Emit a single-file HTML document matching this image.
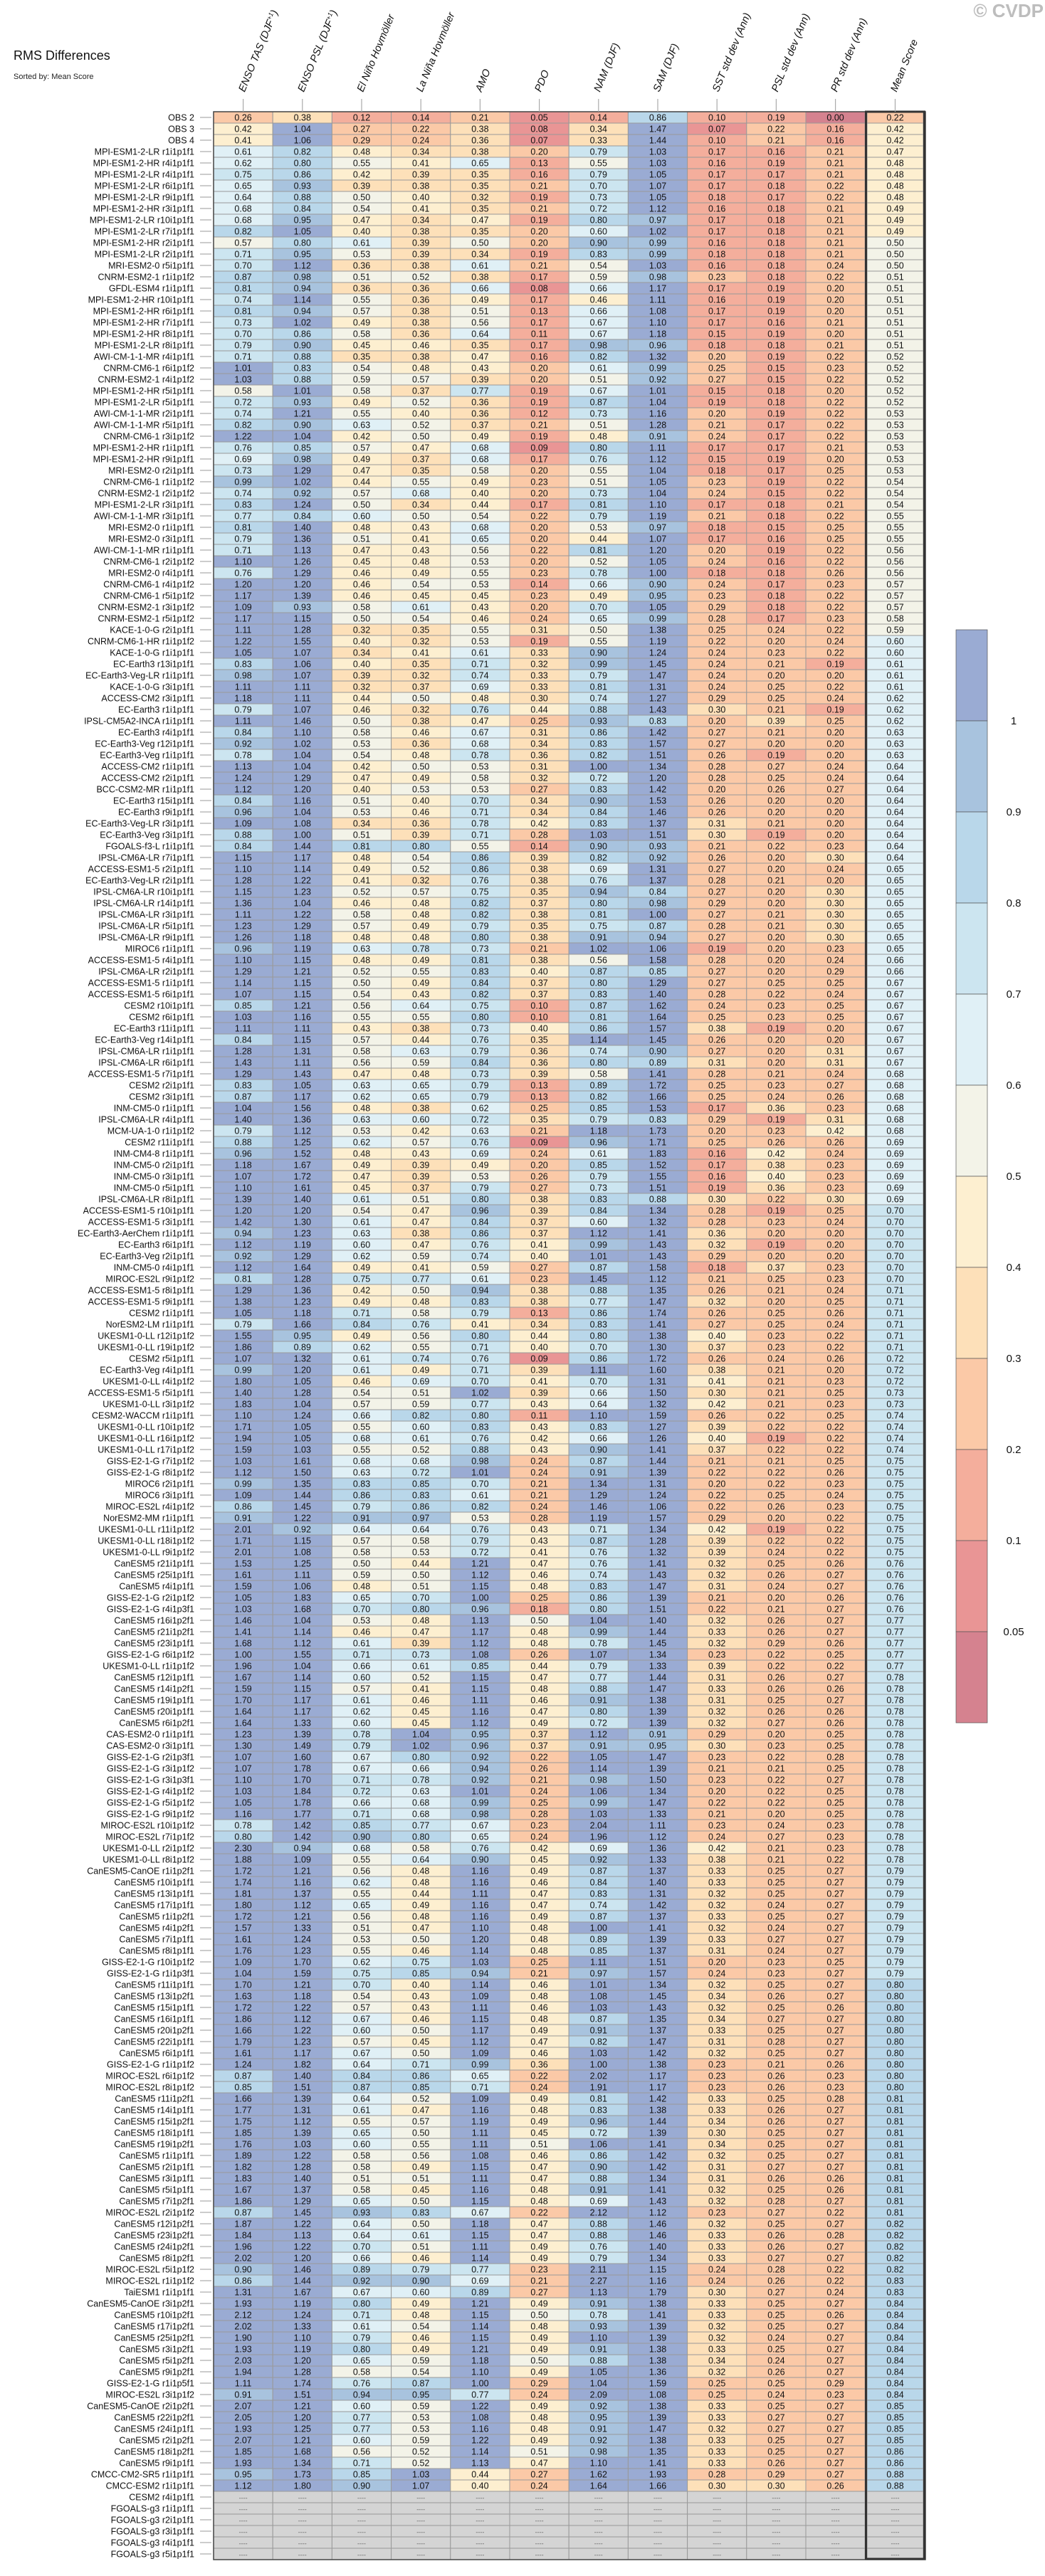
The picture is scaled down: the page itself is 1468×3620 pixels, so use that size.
<!DOCTYPE html>
<html><head><meta charset="utf-8"><title>RMS Differences</title>
<style>
html,body{margin:0;padding:0;background:#fff;}
#wrap{position:relative;width:1468px;height:3620px;overflow:hidden;background:#fff;}
svg{position:absolute;left:0;top:0;}
text{font-family:"Liberation Sans Narrow","Liberation Sans",sans-serif;}
</style></head>
<body>
<div id="wrap">
<svg id="chart" width="1468" height="3620" viewBox="0 0 1468 3620">
<text x="19" y="84" font-size="18" fill="#111">RMS Differences</text>
<text x="19" y="111" font-size="11" fill="#222">Sorted by: Mean Score</text>
<text x="1466" y="24" font-size="26" font-weight="bold" fill="#bdbdbd" text-anchor="end" style="font-family:'Liberation Sans',sans-serif">© CVDP</text>
<g id="cells"></g>
<g id="labels"></g>
<g id="cbar"></g>
</svg>
</div>
<script>
const columnNames = ["ENSO TAS (DJF|+1|)","ENSO PSL (DJF|+1|)","El Niño Hovmöller","La Niña Hovmöller","AMO","PDO","NAM (DJF)","SAM (DJF)","SST std dev (Ann)","PSL std dev (Ann)","PR std dev (Ann)","Mean Score"];
const rowNames = ["OBS 2","OBS 3","OBS 4","MPI-ESM1-2-LR r1i1p1f1","MPI-ESM1-2-HR r4i1p1f1","MPI-ESM1-2-LR r4i1p1f1","MPI-ESM1-2-LR r6i1p1f1","MPI-ESM1-2-LR r9i1p1f1","MPI-ESM1-2-HR r3i1p1f1","MPI-ESM1-2-LR r10i1p1f1","MPI-ESM1-2-LR r7i1p1f1","MPI-ESM1-2-HR r2i1p1f1","MPI-ESM1-2-LR r2i1p1f1","MRI-ESM2-0 r5i1p1f1","CNRM-ESM2-1 r1i1p1f2","GFDL-ESM4 r1i1p1f1","MPI-ESM1-2-HR r10i1p1f1","MPI-ESM1-2-HR r6i1p1f1","MPI-ESM1-2-HR r7i1p1f1","MPI-ESM1-2-HR r8i1p1f1","MPI-ESM1-2-LR r8i1p1f1","AWI-CM-1-1-MR r4i1p1f1","CNRM-CM6-1 r6i1p1f2","CNRM-ESM2-1 r4i1p1f2","MPI-ESM1-2-HR r5i1p1f1","MPI-ESM1-2-LR r5i1p1f1","AWI-CM-1-1-MR r2i1p1f1","AWI-CM-1-1-MR r5i1p1f1","CNRM-CM6-1 r3i1p1f2","MPI-ESM1-2-HR r1i1p1f1","MPI-ESM1-2-HR r9i1p1f1","MRI-ESM2-0 r2i1p1f1","CNRM-CM6-1 r1i1p1f2","CNRM-ESM2-1 r2i1p1f2","MPI-ESM1-2-LR r3i1p1f1","AWI-CM-1-1-MR r3i1p1f1","MRI-ESM2-0 r1i1p1f1","MRI-ESM2-0 r3i1p1f1","AWI-CM-1-1-MR r1i1p1f1","CNRM-CM6-1 r2i1p1f2","MRI-ESM2-0 r4i1p1f1","CNRM-CM6-1 r4i1p1f2","CNRM-CM6-1 r5i1p1f2",
"CNRM-ESM2-1 r3i1p1f2","CNRM-ESM2-1 r5i1p1f2","KACE-1-0-G r2i1p1f1","CNRM-CM6-1-HR r1i1p1f2","KACE-1-0-G r1i1p1f1","EC-Earth3 r13i1p1f1","EC-Earth3-Veg-LR r1i1p1f1","KACE-1-0-G r3i1p1f1","ACCESS-CM2 r3i1p1f1","EC-Earth3 r1i1p1f1","IPSL-CM5A2-INCA r1i1p1f1","EC-Earth3 r4i1p1f1","EC-Earth3-Veg r12i1p1f1","EC-Earth3-Veg r1i1p1f1","ACCESS-CM2 r1i1p1f1","ACCESS-CM2 r2i1p1f1","BCC-CSM2-MR r1i1p1f1","EC-Earth3 r15i1p1f1","EC-Earth3 r9i1p1f1","EC-Earth3-Veg-LR r3i1p1f1","EC-Earth3-Veg r3i1p1f1","FGOALS-f3-L r1i1p1f1","IPSL-CM6A-LR r7i1p1f1","ACCESS-ESM1-5 r2i1p1f1","EC-Earth3-Veg-LR r2i1p1f1","IPSL-CM6A-LR r10i1p1f1","IPSL-CM6A-LR r14i1p1f1","IPSL-CM6A-LR r3i1p1f1","IPSL-CM6A-LR r5i1p1f1","IPSL-CM6A-LR r9i1p1f1","MIROC6 r1i1p1f1","ACCESS-ESM1-5 r4i1p1f1","IPSL-CM6A-LR r2i1p1f1","ACCESS-ESM1-5 r1i1p1f1","ACCESS-ESM1-5 r6i1p1f1","CESM2 r10i1p1f1","CESM2 r6i1p1f1","EC-Earth3 r11i1p1f1","EC-Earth3-Veg r14i1p1f1","IPSL-CM6A-LR r1i1p1f1","IPSL-CM6A-LR r6i1p1f1","ACCESS-ESM1-5 r7i1p1f1","CESM2 r2i1p1f1",
"CESM2 r3i1p1f1","INM-CM5-0 r1i1p1f1","IPSL-CM6A-LR r4i1p1f1","MCM-UA-1-0 r1i1p1f2","CESM2 r11i1p1f1","INM-CM4-8 r1i1p1f1","INM-CM5-0 r2i1p1f1","INM-CM5-0 r3i1p1f1","INM-CM5-0 r5i1p1f1","IPSL-CM6A-LR r8i1p1f1","ACCESS-ESM1-5 r10i1p1f1","ACCESS-ESM1-5 r3i1p1f1","EC-Earth3-AerChem r1i1p1f1","EC-Earth3 r6i1p1f1","EC-Earth3-Veg r2i1p1f1","INM-CM5-0 r4i1p1f1","MIROC-ES2L r9i1p1f2","ACCESS-ESM1-5 r8i1p1f1","ACCESS-ESM1-5 r9i1p1f1","CESM2 r1i1p1f1","NorESM2-LM r1i1p1f1","UKESM1-0-LL r12i1p1f2","UKESM1-0-LL r19i1p1f2","CESM2 r5i1p1f1","EC-Earth3-Veg r4i1p1f1","UKESM1-0-LL r4i1p1f2","ACCESS-ESM1-5 r5i1p1f1","UKESM1-0-LL r3i1p1f2","CESM2-WACCM r1i1p1f1","UKESM1-0-LL r10i1p1f2","UKESM1-0-LL r16i1p1f2","UKESM1-0-LL r17i1p1f2","GISS-E2-1-G r7i1p1f2","GISS-E2-1-G r8i1p1f2","MIROC6 r2i1p1f1","MIROC6 r3i1p1f1","MIROC-ES2L r4i1p1f2","NorESM2-MM r1i1p1f1","UKESM1-0-LL r11i1p1f2","UKESM1-0-LL r18i1p1f2","UKESM1-0-LL r9i1p1f2","CanESM5 r21i1p1f1","CanESM5 r25i1p1f1",
"CanESM5 r4i1p1f1","GISS-E2-1-G r2i1p1f2","GISS-E2-1-G r4i1p3f1","CanESM5 r16i1p2f1","CanESM5 r21i1p2f1","CanESM5 r23i1p1f1","GISS-E2-1-G r6i1p1f2","UKESM1-0-LL r1i1p1f2","CanESM5 r12i1p1f1","CanESM5 r14i1p2f1","CanESM5 r19i1p1f1","CanESM5 r20i1p1f1","CanESM5 r6i1p2f1","CAS-ESM2-0 r1i1p1f1","CAS-ESM2-0 r3i1p1f1","GISS-E2-1-G r2i1p3f1","GISS-E2-1-G r3i1p1f2","GISS-E2-1-G r3i1p3f1","GISS-E2-1-G r4i1p1f2","GISS-E2-1-G r5i1p1f2","GISS-E2-1-G r9i1p1f2","MIROC-ES2L r10i1p1f2","MIROC-ES2L r7i1p1f2","UKESM1-0-LL r2i1p1f2","UKESM1-0-LL r8i1p1f2","CanESM5-CanOE r1i1p2f1","CanESM5 r10i1p1f1","CanESM5 r13i1p1f1","CanESM5 r17i1p1f1","CanESM5 r1i1p2f1","CanESM5 r4i1p2f1","CanESM5 r7i1p1f1","CanESM5 r8i1p1f1","GISS-E2-1-G r10i1p1f2","GISS-E2-1-G r1i1p3f1","CanESM5 r11i1p1f1","CanESM5 r13i1p2f1","CanESM5 r15i1p1f1","CanESM5 r16i1p1f1","CanESM5 r20i1p2f1","CanESM5 r22i1p1f1","CanESM5 r6i1p1f1","GISS-E2-1-G r1i1p1f2",
"MIROC-ES2L r6i1p1f2","MIROC-ES2L r8i1p1f2","CanESM5 r11i1p2f1","CanESM5 r14i1p1f1","CanESM5 r15i1p2f1","CanESM5 r18i1p1f1","CanESM5 r19i1p2f1","CanESM5 r1i1p1f1","CanESM5 r2i1p1f1","CanESM5 r3i1p1f1","CanESM5 r5i1p1f1","CanESM5 r7i1p2f1","MIROC-ES2L r2i1p1f2","CanESM5 r12i1p2f1","CanESM5 r23i1p2f1","CanESM5 r24i1p2f1","CanESM5 r8i1p2f1","MIROC-ES2L r5i1p1f2","MIROC-ES2L r1i1p1f2","TaiESM1 r1i1p1f1","CanESM5-CanOE r3i1p2f1","CanESM5 r10i1p2f1","CanESM5 r17i1p2f1","CanESM5 r25i1p2f1","CanESM5 r3i1p2f1","CanESM5 r5i1p2f1","CanESM5 r9i1p2f1","GISS-E2-1-G r1i1p5f1","MIROC-ES2L r3i1p1f2","CanESM5-CanOE r2i1p2f1","CanESM5 r22i1p2f1","CanESM5 r24i1p1f1","CanESM5 r2i1p2f1","CanESM5 r18i1p2f1","CanESM5 r9i1p1f1","CMCC-CM2-SR5 r1i1p1f1","CMCC-ESM2 r1i1p1f1","CESM2 r4i1p1f1","FGOALS-g3 r1i1p1f1","FGOALS-g3 r2i1p1f1","FGOALS-g3 r3i1p1f1","FGOALS-g3 r4i1p1f1","FGOALS-g3 r5i1p1f1"];
const rowValues = [
[.26,.38,.12,.14,.21,.05,.14,.86,.10,.19,.00,.22],
[.42,1.04,.27,.22,.38,.08,.34,1.47,.07,.22,.16,.42],
[.41,1.06,.29,.24,.36,.07,.33,1.44,.10,.21,.16,.42],
[.61,.82,.48,.34,.38,.20,.79,1.03,.17,.16,.21,.47],
[.62,.80,.55,.41,.65,.13,.55,1.03,.16,.19,.21,.48],
[.75,.86,.42,.39,.35,.16,.79,1.05,.17,.17,.21,.48],
[.65,.93,.39,.38,.35,.21,.70,1.07,.17,.18,.22,.48],
[.64,.88,.50,.40,.32,.19,.73,1.05,.18,.17,.22,.48],
[.68,.84,.54,.41,.35,.21,.72,1.12,.16,.18,.21,.49],
[.68,.95,.47,.34,.47,.19,.80,.97,.17,.18,.21,.49],
[.82,1.05,.40,.38,.35,.20,.60,1.02,.17,.18,.21,.49],
[.57,.80,.61,.39,.50,.20,.90,.99,.16,.18,.21,.50],
[.71,.95,.53,.39,.34,.19,.83,.99,.18,.18,.21,.50],
[.70,1.12,.36,.38,.61,.21,.54,1.03,.16,.18,.24,.50],
[.87,.98,.51,.52,.38,.17,.59,.98,.23,.18,.22,.51],
[.81,.94,.36,.36,.66,.08,.66,1.17,.17,.19,.20,.51],
[.74,1.14,.55,.36,.49,.17,.46,1.11,.16,.19,.20,.51],
[.81,.94,.57,.38,.51,.13,.66,1.08,.17,.19,.20,.51],
[.73,1.02,.49,.38,.56,.17,.67,1.10,.17,.16,.21,.51],
[.70,.86,.58,.36,.64,.11,.67,1.18,.15,.19,.20,.51],
[.79,.90,.45,.46,.35,.17,.98,.96,.18,.18,.21,.51],
[.71,.88,.35,.38,.47,.16,.82,1.32,.20,.19,.22,.52],
[1.01,.83,.54,.48,.43,.20,.61,.99,.25,.15,.23,.52],
[1.03,.88,.59,.57,.39,.20,.51,.92,.27,.15,.22,.52],
[.58,1.01,.58,.37,.77,.19,.67,1.01,.15,.18,.20,.52],
[.72,.93,.49,.52,.36,.19,.87,1.04,.19,.18,.22,.52],
[.74,1.21,.55,.40,.36,.12,.73,1.16,.20,.19,.22,.53],
[.82,.90,.63,.52,.37,.21,.51,1.28,.21,.17,.22,.53],
[1.22,1.04,.42,.50,.49,.19,.48,.91,.24,.17,.22,.53],
[.76,.85,.57,.47,.68,.09,.80,1.11,.17,.17,.21,.53],
[.69,.98,.49,.37,.68,.17,.76,1.12,.15,.19,.20,.53],
[.73,1.29,.47,.35,.58,.20,.55,1.04,.18,.17,.25,.53],
[.99,1.02,.44,.55,.49,.23,.51,1.05,.23,.19,.22,.54],
[.74,.92,.57,.68,.40,.20,.73,1.04,.24,.15,.22,.54],
[.83,1.24,.50,.34,.44,.17,.81,1.10,.17,.18,.21,.54],
[.77,.84,.60,.50,.54,.22,.79,1.19,.21,.18,.22,.55],
[.81,1.40,.48,.43,.68,.20,.53,.97,.18,.15,.25,.55],
[.79,1.36,.51,.41,.65,.20,.44,1.07,.17,.16,.25,.55],
[.71,1.13,.47,.43,.56,.22,.81,1.20,.20,.19,.22,.56],
[1.10,1.26,.45,.48,.53,.20,.52,1.05,.24,.16,.22,.56],
[.76,1.29,.46,.49,.55,.23,.78,1.00,.18,.18,.26,.56],
[1.20,1.20,.46,.54,.53,.14,.66,.90,.24,.17,.23,.57],
[1.17,1.39,.46,.45,.45,.23,.49,.95,.23,.18,.22,.57],
[1.09,.93,.58,.61,.43,.20,.70,1.05,.29,.18,.22,.57],
[1.17,1.15,.50,.54,.46,.24,.65,.99,.28,.17,.23,.58],
[1.11,1.28,.32,.35,.55,.31,.50,1.38,.25,.24,.22,.59],
[1.22,1.55,.40,.32,.53,.19,.55,1.19,.22,.20,.24,.60],
[1.05,1.07,.34,.41,.61,.33,.90,1.24,.24,.23,.22,.60],
[.83,1.06,.40,.35,.71,.32,.99,1.45,.24,.21,.19,.61],
[.98,1.07,.39,.32,.74,.33,.79,1.47,.24,.20,.20,.61],
[1.11,1.11,.32,.37,.69,.33,.81,1.31,.24,.25,.22,.61],
[1.18,1.11,.44,.50,.48,.30,.74,1.27,.29,.25,.24,.62],
[.79,1.07,.46,.32,.76,.44,.88,1.43,.30,.21,.19,.62],
[1.11,1.46,.50,.38,.47,.25,.93,.83,.20,.39,.25,.62],
[.84,1.10,.58,.46,.67,.31,.86,1.42,.27,.21,.20,.63],
[.92,1.02,.53,.36,.68,.34,.83,1.57,.27,.20,.20,.63],
[.78,1.04,.54,.48,.78,.36,.82,1.51,.26,.19,.20,.63],
[1.13,1.04,.42,.50,.53,.31,1.00,1.34,.28,.27,.24,.64],
[1.24,1.29,.47,.49,.58,.32,.72,1.20,.28,.25,.24,.64],
[1.12,1.20,.40,.53,.53,.27,.83,1.42,.20,.26,.27,.64],
[.84,1.16,.51,.40,.70,.34,.90,1.53,.26,.20,.20,.64],
[.96,1.04,.53,.46,.71,.34,.84,1.46,.26,.20,.20,.64],
[1.09,1.08,.34,.36,.78,.42,.83,1.37,.31,.21,.20,.64],
[.88,1.00,.51,.39,.71,.28,1.03,1.51,.30,.19,.20,.64],
[.84,1.44,.81,.80,.55,.14,.90,.93,.21,.22,.23,.64],
[1.15,1.17,.48,.54,.86,.39,.82,.92,.26,.20,.30,.64],
[1.10,1.14,.49,.52,.86,.38,.69,1.31,.27,.20,.24,.65],
[1.28,1.22,.41,.32,.76,.38,.76,1.37,.28,.21,.20,.65],
[1.15,1.23,.52,.57,.75,.35,.94,.84,.27,.20,.30,.65],
[1.36,1.04,.46,.48,.82,.37,.80,.98,.29,.20,.30,.65],
[1.11,1.22,.58,.48,.82,.38,.81,1.00,.27,.21,.30,.65],
[1.23,1.29,.57,.49,.79,.35,.75,.87,.28,.21,.30,.65],
[1.26,1.18,.48,.48,.80,.38,.91,.94,.27,.20,.30,.65],
[.96,1.19,.63,.78,.73,.21,1.02,1.06,.19,.20,.23,.65],
[1.10,1.15,.48,.49,.81,.38,.56,1.58,.28,.20,.24,.66],
[1.29,1.21,.52,.55,.83,.40,.87,.85,.27,.20,.29,.66],
[1.14,1.15,.50,.49,.84,.37,.80,1.29,.27,.25,.25,.67],
[1.07,1.15,.54,.43,.82,.37,.83,1.40,.28,.22,.24,.67],
[.85,1.21,.56,.64,.75,.10,.87,1.62,.24,.23,.25,.67],
[1.03,1.16,.55,.55,.80,.10,.81,1.64,.25,.23,.25,.67],
[1.11,1.11,.43,.38,.73,.40,.86,1.57,.38,.19,.20,.67],
[.84,1.15,.57,.44,.76,.35,1.14,1.45,.26,.20,.20,.67],
[1.28,1.31,.58,.63,.79,.36,.74,.90,.27,.20,.31,.67],
[1.43,1.11,.56,.59,.84,.36,.80,.89,.31,.20,.31,.67],
[1.29,1.43,.47,.48,.73,.39,.58,1.41,.28,.21,.24,.68],
[.83,1.05,.63,.65,.79,.13,.89,1.72,.25,.23,.27,.68],
[.87,1.17,.62,.65,.79,.13,.82,1.66,.25,.24,.26,.68],
[1.04,1.56,.48,.38,.62,.25,.85,1.53,.17,.36,.23,.68],
[1.40,1.36,.63,.60,.72,.35,.79,.83,.29,.19,.31,.68],
[.79,1.12,.53,.42,.63,.21,1.18,1.73,.20,.23,.42,.68],
[.88,1.25,.62,.57,.76,.09,.96,1.71,.25,.26,.26,.69],
[.96,1.52,.48,.43,.69,.24,.61,1.83,.16,.42,.24,.69],
[1.18,1.67,.49,.39,.49,.20,.85,1.52,.17,.38,.23,.69],
[1.07,1.72,.47,.39,.53,.26,.79,1.55,.16,.40,.23,.69],
[1.10,1.61,.45,.37,.79,.27,.73,1.51,.19,.36,.23,.69],
[1.39,1.40,.61,.51,.80,.38,.83,.88,.30,.22,.30,.69],
[1.20,1.20,.54,.47,.96,.39,.84,1.34,.28,.19,.25,.70],
[1.42,1.30,.61,.47,.84,.37,.60,1.32,.28,.23,.24,.70],
[.94,1.23,.63,.38,.86,.37,1.12,1.41,.36,.20,.20,.70],
[1.12,1.19,.60,.47,.76,.41,.99,1.43,.32,.19,.20,.70],
[.92,1.29,.62,.59,.74,.40,1.01,1.43,.29,.20,.20,.70],
[1.12,1.64,.49,.41,.59,.27,.87,1.58,.18,.37,.23,.70],
[.81,1.28,.75,.77,.61,.23,1.45,1.12,.21,.25,.23,.70],
[1.29,1.36,.42,.50,.94,.38,.88,1.35,.26,.21,.24,.71],
[1.38,1.23,.49,.48,.83,.38,.77,1.47,.32,.20,.25,.71],
[1.05,1.18,.71,.58,.79,.13,.86,1.74,.26,.25,.26,.71],
[.79,1.66,.84,.76,.41,.34,.83,1.41,.27,.25,.24,.71],
[1.55,.95,.49,.56,.80,.44,.80,1.38,.40,.23,.22,.71],
[1.86,.89,.62,.55,.71,.40,.70,1.30,.37,.23,.22,.71],
[1.07,1.32,.61,.74,.76,.09,.86,1.72,.26,.24,.26,.72],
[.99,1.20,.61,.49,.71,.39,1.11,1.60,.38,.21,.20,.72],
[1.80,1.05,.46,.69,.70,.41,.70,1.31,.41,.21,.23,.72],
[1.40,1.28,.54,.51,1.02,.39,.66,1.50,.30,.21,.25,.73],
[1.83,1.04,.57,.59,.77,.43,.64,1.32,.42,.21,.23,.73],
[1.10,1.24,.66,.82,.80,.11,1.10,1.59,.26,.22,.25,.74],
[1.71,1.05,.55,.60,.83,.43,.83,1.27,.39,.22,.22,.74],
[1.94,1.05,.68,.61,.76,.42,.66,1.26,.40,.19,.22,.74],
[1.59,1.03,.55,.52,.88,.43,.90,1.41,.37,.22,.22,.74],
[1.03,1.61,.68,.68,.98,.24,.87,1.44,.21,.21,.25,.75],
[1.12,1.50,.63,.72,1.01,.24,.91,1.39,.22,.22,.26,.75],
[.99,1.35,.83,.85,.70,.21,1.34,1.31,.20,.22,.23,.75],
[1.09,1.44,.86,.83,.61,.21,1.29,1.24,.22,.25,.24,.75],
[.86,1.45,.79,.86,.82,.24,1.46,1.06,.22,.26,.23,.75],
[.91,1.22,.91,.97,.53,.28,1.19,1.57,.29,.20,.22,.75],
[2.01,.92,.64,.64,.76,.43,.71,1.34,.42,.19,.22,.75],
[1.71,1.15,.57,.58,.79,.43,.87,1.28,.39,.22,.22,.75],
[2.01,1.08,.58,.53,.72,.41,.76,1.32,.39,.24,.22,.75],
[1.53,1.25,.50,.44,1.21,.47,.76,1.41,.32,.25,.26,.76],
[1.61,1.11,.59,.50,1.12,.46,.74,1.43,.32,.26,.27,.76],
[1.59,1.06,.48,.51,1.15,.48,.83,1.47,.31,.24,.27,.76],
[1.05,1.83,.65,.70,1.00,.25,.86,1.39,.21,.20,.26,.76],
[1.03,1.68,.70,.80,.96,.18,.80,1.51,.22,.21,.27,.76],
[1.46,1.04,.53,.48,1.13,.50,1.04,1.40,.32,.26,.27,.77],
[1.41,1.14,.46,.47,1.17,.48,.99,1.44,.33,.26,.27,.77],
[1.68,1.12,.61,.39,1.12,.48,.78,1.45,.32,.29,.26,.77],
[1.00,1.55,.71,.73,1.08,.26,1.07,1.34,.23,.22,.25,.77],
[1.96,1.04,.66,.61,.85,.44,.79,1.33,.39,.22,.22,.77],
[1.67,1.14,.60,.52,1.15,.47,.77,1.44,.31,.26,.27,.78],
[1.59,1.15,.57,.41,1.15,.48,.88,1.47,.33,.26,.26,.78],
[1.70,1.17,.61,.46,1.11,.46,.91,1.38,.31,.25,.27,.78],
[1.64,1.17,.62,.45,1.16,.47,.80,1.39,.32,.26,.26,.78],
[1.64,1.33,.60,.45,1.12,.49,.72,1.39,.32,.27,.26,.78],
[1.23,1.39,.78,1.04,.95,.37,1.12,.91,.29,.20,.25,.78],
[1.30,1.49,.79,1.02,.96,.37,.91,.95,.30,.23,.25,.78],
[1.07,1.60,.67,.80,.92,.22,1.05,1.47,.23,.22,.28,.78],
[1.07,1.78,.67,.66,.94,.26,1.14,1.39,.21,.21,.25,.78],
[1.10,1.70,.71,.78,.92,.21,.98,1.50,.23,.22,.27,.78],
[1.03,1.84,.72,.63,1.01,.24,1.06,1.34,.20,.22,.25,.78],
[1.05,1.78,.66,.68,.99,.25,.99,1.47,.22,.22,.25,.78],
[1.16,1.77,.71,.68,.98,.28,1.03,1.33,.21,.20,.25,.78],
[.78,1.42,.85,.77,.67,.23,2.04,1.11,.23,.24,.23,.78],
[.80,1.42,.90,.80,.65,.24,1.96,1.12,.24,.27,.23,.78],
[2.30,.94,.68,.58,.76,.42,.69,1.36,.42,.21,.23,.78],
[1.88,1.09,.55,.64,.90,.45,.92,1.33,.38,.21,.22,.78],
[1.72,1.21,.56,.48,1.16,.49,.87,1.37,.33,.25,.27,.79],
[1.74,1.16,.62,.48,1.16,.46,.84,1.40,.33,.25,.27,.79],
[1.81,1.37,.55,.44,1.11,.47,.83,1.31,.32,.25,.27,.79],
[1.80,1.12,.65,.49,1.16,.47,.74,1.42,.32,.24,.27,.79],
[1.72,1.21,.56,.48,1.16,.49,.87,1.37,.33,.25,.27,.79],
[1.57,1.33,.51,.47,1.10,.48,1.00,1.41,.32,.24,.27,.79],
[1.61,1.24,.53,.50,1.20,.48,.89,1.39,.33,.27,.27,.79],
[1.76,1.23,.55,.46,1.14,.48,.85,1.37,.31,.24,.27,.79],
[1.09,1.70,.62,.75,1.03,.25,1.11,1.51,.20,.23,.25,.79],
[1.04,1.59,.75,.85,.94,.21,.97,1.57,.24,.23,.27,.79],
[1.70,1.21,.70,.40,1.14,.46,1.01,1.34,.32,.25,.27,.80],
[1.63,1.18,.54,.43,1.09,.48,1.08,1.45,.34,.26,.27,.80],
[1.72,1.22,.57,.43,1.11,.46,1.03,1.43,.32,.25,.26,.80],
[1.86,1.12,.67,.46,1.15,.48,.87,1.35,.34,.27,.27,.80],
[1.66,1.22,.60,.50,1.17,.49,.91,1.37,.33,.25,.27,.80],
[1.79,1.23,.57,.45,1.12,.47,.82,1.47,.31,.28,.27,.80],
[1.61,1.17,.67,.50,1.09,.46,1.03,1.42,.32,.25,.27,.80],
[1.24,1.82,.64,.71,.99,.36,1.00,1.38,.23,.21,.26,.80],
[.87,1.40,.84,.86,.65,.22,2.02,1.17,.23,.26,.23,.80],
[.85,1.51,.87,.85,.71,.24,1.91,1.17,.23,.26,.23,.80],
[1.66,1.39,.64,.52,1.09,.49,.81,1.42,.33,.25,.28,.81],
[1.77,1.31,.61,.47,1.16,.48,.83,1.38,.33,.26,.27,.81],
[1.75,1.12,.55,.57,1.19,.49,.96,1.44,.34,.26,.27,.81],
[1.85,1.39,.65,.50,1.11,.45,.72,1.39,.30,.25,.27,.81],
[1.76,1.03,.60,.55,1.11,.51,1.06,1.41,.34,.25,.27,.81],
[1.89,1.22,.58,.56,1.08,.46,.86,1.42,.32,.25,.27,.81],
[1.82,1.28,.58,.49,1.15,.47,.90,1.42,.31,.27,.27,.81],
[1.83,1.40,.51,.51,1.11,.47,.88,1.34,.31,.26,.26,.81],
[1.67,1.37,.58,.45,1.16,.48,.91,1.41,.32,.25,.26,.81],
[1.86,1.29,.65,.50,1.15,.48,.69,1.43,.32,.28,.27,.81],
[.87,1.45,.93,.83,.67,.22,2.12,1.12,.23,.27,.22,.81],
[1.87,1.22,.64,.50,1.18,.47,.88,1.46,.32,.25,.27,.82],
[1.84,1.13,.64,.61,1.15,.47,.88,1.46,.33,.26,.28,.82],
[1.96,1.22,.70,.51,1.11,.49,.76,1.40,.33,.26,.27,.82],
[2.02,1.20,.66,.46,1.14,.49,.79,1.34,.33,.27,.27,.82],
[.90,1.46,.89,.79,.77,.23,2.11,1.15,.24,.28,.22,.82],
[.86,1.44,.92,.90,.69,.21,2.27,1.16,.24,.26,.22,.83],
[1.31,1.67,.67,.60,.89,.27,1.13,1.79,.30,.27,.24,.83],
[1.93,1.19,.80,.49,1.21,.49,.91,1.38,.33,.25,.27,.84],
[2.12,1.24,.71,.48,1.15,.50,.78,1.41,.33,.25,.26,.84],
[2.02,1.33,.61,.54,1.14,.48,.93,1.39,.32,.25,.27,.84],
[1.90,1.10,.79,.46,1.15,.49,1.10,1.39,.32,.24,.27,.84],
[1.93,1.19,.80,.49,1.21,.49,.91,1.38,.33,.25,.27,.84],
[2.03,1.20,.65,.59,1.18,.50,.88,1.38,.34,.24,.27,.84],
[1.94,1.28,.58,.54,1.10,.49,1.05,1.36,.32,.26,.27,.84],
[1.11,1.74,.76,.87,1.00,.29,1.04,1.59,.25,.25,.29,.84],
[.91,1.51,.94,.95,.77,.24,2.09,1.08,.25,.24,.23,.84],
[2.07,1.21,.60,.59,1.22,.49,.92,1.38,.33,.25,.27,.85],
[2.05,1.20,.77,.53,1.08,.48,.95,1.39,.33,.27,.27,.85],
[1.93,1.25,.77,.53,1.16,.48,.91,1.47,.32,.27,.27,.85],
[2.07,1.21,.60,.59,1.22,.49,.92,1.38,.33,.25,.27,.85],
[1.85,1.68,.56,.52,1.14,.51,.98,1.35,.33,.25,.27,.86],
[1.93,1.34,.71,.52,1.13,.47,1.10,1.41,.33,.26,.27,.86],
[.95,1.73,.85,1.03,.44,.27,1.62,1.93,.28,.29,.27,.88],
[1.12,1.80,.90,1.07,.40,.24,1.64,1.66,.30,.30,.26,.88],
null,null,null,null,null,null
];
const levelBounds = [0.05,0.1,0.2,0.3,0.4,0.5,0.6,0.7,0.8,0.9,1];
const levelLabels = ["0.05","0.1","0.2","0.3","0.4","0.5","0.6","0.7","0.8","0.9","1"];
const levelColors = ["#d5828f","#e99595","#f4ae9c","#fbc9a7","#fde0b9","#fdefd0","#f3f3e8","#e0f0f6","#cce5f0","#b9d7ea","#a8c3de","#9aabd3"];

const NS = "http://www.w3.org/2000/svg";
const GRID_LEFT = 300, COL_W = 83.2, MEAN_LEFT = 1218, MEAN_W = 79, GRID_TOP = 157, ROW_H = 16;
function xCol(j){ return j < 11 ? GRID_LEFT + j*COL_W : MEAN_LEFT; }
function wCol(j){ return j < 11 ? COL_W : MEAN_W; }
function yRow(i){ return GRID_TOP + i*ROW_H; }
function colorFor(v){ let k=0; while(k<levelBounds.length && v>=levelBounds[k]-1e-9) k++; return levelColors[k]; }
function mk(tag, attrs, parent){ const e=document.createElementNS(NS,tag); for(const k in attrs) e.setAttribute(k,attrs[k]); parent.appendChild(e); return e; }

const cells = document.getElementById('cells');
const labels = document.getElementById('labels');
const nRows = rowNames.length;

rowNames.forEach((name,i)=>{
  const vals = rowValues[i];
  for(let j=0;j<12;j++){
    const v = vals ? vals[j] : null;
    const r = mk('rect',{x:xCol(j),y:yRow(i),width:wCol(j),height:ROW_H,fill: v===null?'#d4d4d4':colorFor(v),stroke:'#999','stroke-width':1},cells);
    
    
    const t = mk('text',{x:xCol(j)+wCol(j)/2,y:yRow(i)+12.3,'text-anchor':'middle','font-size': v===null?9:12.5,fill: v===null?'#666':'#111'},cells);
    t.textContent = v===null ? '----' : v.toFixed(2);
    
    
  }
  const lab = mk('text',{x:273,y:yRow(i)+12.3,'text-anchor':'end','font-size':12.5,fill:'#111'},labels);
  lab.textContent = name;
  
  
  const tk = mk('line',{x1:281,x2:297,y1:yRow(i)+8,y2:yRow(i)+8,stroke:'#aaa','stroke-width':1.2},labels);
  
  
});

const gb = mk('rect',{x:GRID_LEFT,y:GRID_TOP,width:1300-GRID_LEFT,height:nRows*ROW_H,fill:'none',stroke:'#444','stroke-width':1.5},cells);


const mb = mk('rect',{x:1216.5,y:GRID_TOP,width:82,height:nRows*ROW_H-1,fill:'none',stroke:'#333','stroke-width':3},cells);



columnNames.forEach((c,j)=>{
  const cx = xCol(j)+wCol(j)/2;
  const ln = mk('line',{x1:cx,x2:cx,y1:139,y2:GRID_TOP,stroke:'#aaa','stroke-width':1.2},labels);
  
  
  const t = mk('text',{x:cx+2,y:130,'text-anchor':'start','font-size':14.5,'font-style':'italic',fill:'#111',transform:'rotate(-67.5 '+(cx+2)+' 130)'},labels);
  
  
  const parts = c.split('|');
  const a = mk('tspan',{},t); a.textContent = parts[0];
  if(parts.length>1){
    const s = mk('tspan',{'baseline-shift':'super','font-size':9},t); s.textContent = parts[1];
    const b = mk('tspan',{},t); b.textContent = parts[2];
  }
});

const cbar = document.getElementById('cbar');
const CB_X = 1343, CB_W = 44, CB_TOP = 885, CB_BOX = 128;
for(let k=0;k<levelColors.length;k++){
  const idx = levelColors.length-1-k;
  const r = mk('rect',{x:CB_X,y:CB_TOP+k*CB_BOX,width:CB_W,height:CB_BOX,fill:levelColors[idx],stroke:'#555','stroke-width':0.7},cbar);
  
  
}
levelLabels.forEach((lb,k)=>{
  const y = CB_TOP + (levelLabels.length-k)*CB_BOX;
  const t = mk('text',{x:1424,y:y+5,'text-anchor':'middle','font-size':15,fill:'#111',style:"font-family:'Liberation Sans',sans-serif"},cbar);
  t.textContent = lb;
  
  
});
</script>
</body></html>
